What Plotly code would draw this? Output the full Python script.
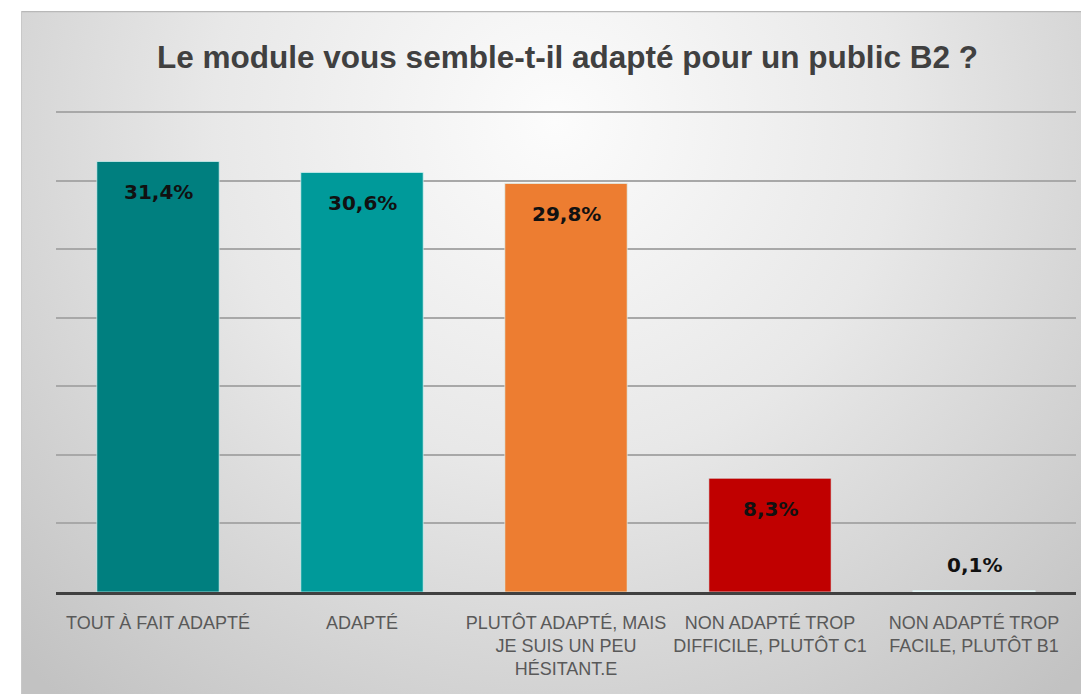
import base64
import plotly.graph_objects as go

categories = [
    "TOUT À FAIT ADAPTÉ",
    "ADAPTÉ",
    "PLUTÔT ADAPTÉ, MAIS<br>JE SUIS UN PEU<br>HÉSITANT.E",
    "NON ADAPTÉ TROP<br>DIFFICILE, PLUTÔT C1",
    "NON ADAPTÉ TROP<br>FACILE, PLUTÔT B1",
]
values = [31.4, 30.6, 29.8, 8.3, 0.1]
labels = ["31,4%", "30,6%", "29,8%", "8,3%", "0,1%"]
colors = ["#007f7f", "#009a9a", "#ed7d31", "#c00000", "#f4f4f4"]
grid_values = [5, 10, 15, 20, 25, 30, 35]
title_text = "Le module vous semble-t-il adapté pour un public B2 ?"

# page has an 8px body margin, so the figure is a bit smaller than the window
W, H = 1081, 686
ML, MR, MT, MB = 48, 13, 100, 102
pw, ph = W - ML - MR, H - MT - MB

# gradient background frame (SVG)
fx0, fy0 = 13, 3
fw, fh = W - fx0, H - fy0
svg = f'''<svg xmlns="http://www.w3.org/2000/svg" width="{fw}" height="{fh}" viewBox="0 0 {fw} {fh}" preserveAspectRatio="none">
<defs><radialGradient id="g" gradientUnits="userSpaceOnUse" cx="{fw*0.5}" cy="110" r="760">
<stop offset="0" stop-color="#fcfcfc"/><stop offset="0.45" stop-color="#e8e8e8"/><stop offset="1" stop-color="#c2c2c2"/>
</radialGradient></defs>
<rect x="0" y="0" width="{fw}" height="{fh}" fill="url(#g)"/>
<line x1="0" y1="0.5" x2="{fw}" y2="0.5" stroke="#b8b8b8" stroke-width="1.5"/>
<line x1="0.5" y1="0" x2="0.5" y2="{fh}" stroke="#c8c8c8" stroke-width="1"/>
</svg>'''
src = "data:image/svg+xml;base64," + base64.b64encode(svg.encode()).decode()

fig = go.Figure()
fig.add_trace(go.Bar(
    x=categories, y=values,
    marker=dict(color=colors, line=dict(color="rgba(220,245,245,0.7)", width=1)),
    hoverinfo="skip",
))

# data labels
for c, v, t in zip(categories, values, labels):
    inside = v > 5
    fig.add_annotation(
        x=c, y=v, text=t, showarrow=False,
        yanchor="top" if inside else "bottom",
        yshift=-17 if inside else 12,
        font=dict(family="DejaVu Sans", size=20, color="#111111", weight="bold"),
    )

fig.update_layout(
    width=W, height=H,
    margin=dict(l=ML, r=MR, t=MT, b=MB),
    paper_bgcolor="white",
    plot_bgcolor="rgba(0,0,0,0)",
    bargap=0.4,
    showlegend=False,
    title=dict(
        text=title_text, x=559.5 / W, xanchor="center", y=1 - 49 / H, yanchor="middle",
        font=dict(family="Liberation Sans", size=31.5, color="#404040", weight="bold"),
    ),
    images=[dict(
        source=src, xref="paper", yref="paper",
        x=(fx0 - ML) / pw, y=(H - MB - fy0) / ph,
        sizex=fw / pw, sizey=fh / ph,
        xanchor="left", yanchor="top", sizing="stretch", layer="below",
    )],
    xaxis=dict(
        showgrid=False, showline=True, linecolor="#404040", linewidth=3,
        ticks="", ticklabelstandoff=12,
        tickfont=dict(family="Liberation Sans", size=18, color="#595959"),
        fixedrange=True,
    ),
    yaxis=dict(
        range=[0, 35.3], tickvals=grid_values,
        showgrid=True, gridcolor="#a8a8a8", gridwidth=1.5,
        showticklabels=False, zeroline=False, showline=False, fixedrange=True,
    ),
)

fig.write_html("out.html")
